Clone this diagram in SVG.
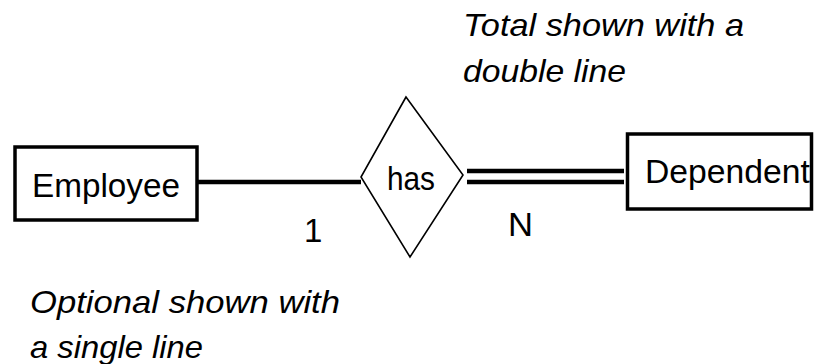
<svg xmlns="http://www.w3.org/2000/svg" width="815" height="364" viewBox="0 0 815 364">
<style>
.box{fill:#fff;stroke:#000;stroke-width:3.5}
.dia{fill:#fff;stroke:#000;stroke-width:1.6}
.lbl{font-family:"Liberation Sans",Arial,sans-serif;font-size:33px;fill:#000}
.note{font-family:"Liberation Sans",Arial,sans-serif;font-style:italic;font-size:32px;fill:#000}
.ln{stroke:#000;stroke-width:4.5;fill:none}
</style>
<rect width="815" height="364" fill="#fff"/>
<g id="connectors">
<line class="ln" x1="197" y1="182" x2="361" y2="182"/>
<line class="ln" x1="467" y1="171" x2="624" y2="171"/>
<line class="ln" x1="467" y1="182" x2="624" y2="182"/>
</g>
<g id="employee">
<rect class="box" x="15" y="147" width="182" height="73"/>
<text class="lbl" x="32" y="197" textLength="148" lengthAdjust="spacingAndGlyphs">Employee</text>
</g>
<g id="has">
<polygon class="dia" points="406,97 361,177 410,257 463,175"/>
<text class="lbl" x="387" y="190" textLength="48" lengthAdjust="spacingAndGlyphs">has</text>
</g>
<g id="dependent">
<rect class="box" x="627.5" y="134" width="184" height="75"/>
<text class="lbl" x="645" y="183" textLength="165" lengthAdjust="spacingAndGlyphs">Dependent</text>
</g>
<g id="cardinalities">
<text class="lbl" x="304" y="242">1</text>
<text class="lbl" x="508" y="236" textLength="25" lengthAdjust="spacingAndGlyphs">N</text>
</g>
<g id="notes">
<text class="note" x="463" y="36" textLength="281" lengthAdjust="spacingAndGlyphs">Total shown with a</text>
<text class="note" x="463" y="82" textLength="163" lengthAdjust="spacingAndGlyphs">double line</text>
<text class="note" x="30" y="313" textLength="310" lengthAdjust="spacingAndGlyphs">Optional shown with</text>
<text class="note" x="30" y="358" textLength="173" lengthAdjust="spacingAndGlyphs">a single line</text>
</g>
</svg>
